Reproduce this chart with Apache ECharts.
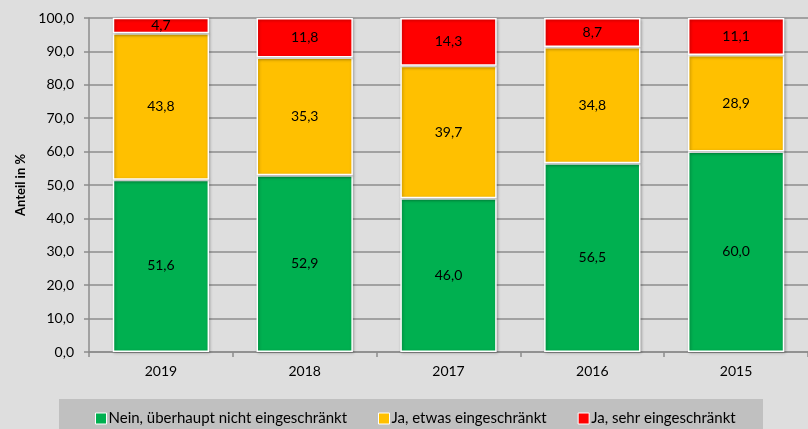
<!DOCTYPE html>
<html>
<head>
<meta charset="utf-8">
<script src="https://cdn.jsdelivr.net/npm/echarts@6/dist/echarts.min.js"></script>
<style>
  html, body { margin: 0; padding: 0; background: #dedede; }
  #main { width: 808px; height: 429px; }
</style>
</head>
<body>
<div id="main"></div>
<script>
// Daten
var years = ['2019', '2018', '2017', '2016', '2015'];
var seriesNames = ['Nein, überhaupt nicht eingeschränkt', 'Ja, etwas eingeschränkt', 'Ja, sehr eingeschränkt'];
var nein = [51.6, 52.9, 46.0, 56.5, 60.0];
var etwas = [43.8, 35.3, 39.7, 34.8, 28.9];
var sehr = [4.7, 11.8, 14.3, 8.7, 11.1];
var colors = ['#00b050', '#ffc000', '#ff0000'];

function fmt(v) {
    return v.toFixed(1).replace('.', ',');
}

var font = 'Lato, "Open Sans", sans-serif';

function makeSeries(name, data, color) {
    return {
        name: name,
        type: 'bar',
        stack: 'total',
        data: data,
        barWidth: '67%',
        itemStyle: {
            color: color,
            borderColor: '#ffffff',
            borderWidth: 1.5,
            shadowBlur: 3,
            shadowColor: 'rgba(0,0,0,0.3)',
            shadowOffsetX: 1,
            shadowOffsetY: 1
        },
        label: {
            show: true,
            position: 'inside',
            color: '#000',
            fontFamily: font,
            fontSize: 14,
            formatter: function (p) { return fmt(p.value); }
        }
    };
}

var chart = echarts.init(document.getElementById('main'));
chart.setOption({
    backgroundColor: '#dedede',
    animation: false,
    grid: { left: 89, width: 726, top: 18, bottom: 77 },
    graphic: [{
        type: 'rect',
        left: 59,
        top: 399,
        shape: { width: 704, height: 40 },
        style: { fill: '#c0c0c0' },
        z: 0
    }],
    legend: {
        data: seriesNames,
        top: 406,
        left: 90,
        itemWidth: 11,
        itemHeight: 11,
        itemGap: 31,
        icon: 'rect',
        itemStyle: { borderColor: '#ffffff', borderWidth: 1 },
        textStyle: { fontFamily: font, fontSize: 15, color: '#000', padding: [0, 0, 0, -3] }
    },
    xAxis: {
        type: 'category',
        data: years,
        axisLine: { lineStyle: { color: '#8c8c8c', width: 1.5 } },
        axisTick: { show: true, length: 5, lineStyle: { color: '#8c8c8c', width: 1.5 } },
        axisLabel: { color: '#000', fontFamily: font, fontSize: 14, margin: 12 }
    },
    yAxis: {
        type: 'value',
        min: 0,
        max: 100,
        interval: 10,
        name: 'Anteil in %',
        nameLocation: 'middle',
        nameGap: 62,
        nameTextStyle: { fontFamily: font, fontSize: 13, fontWeight: 'bold', color: '#000' },
        axisLine: { show: true, lineStyle: { color: '#8c8c8c', width: 1.5 } },
        axisTick: { show: true, length: 5, lineStyle: { color: '#8c8c8c', width: 1.5 } },
        axisLabel: {
            color: '#000',
            fontFamily: font,
            fontSize: 14,
            margin: 15,
            formatter: function (v) { return fmt(v); }
        },
        splitLine: { lineStyle: { color: '#8c8c8c', width: 1.5 } }
    },
    series: [
        makeSeries(seriesNames[0], nein, colors[0]),
        makeSeries(seriesNames[1], etwas, colors[1]),
        makeSeries(seriesNames[2], sehr, colors[2])
    ]
});
</script>
</body>
</html>
